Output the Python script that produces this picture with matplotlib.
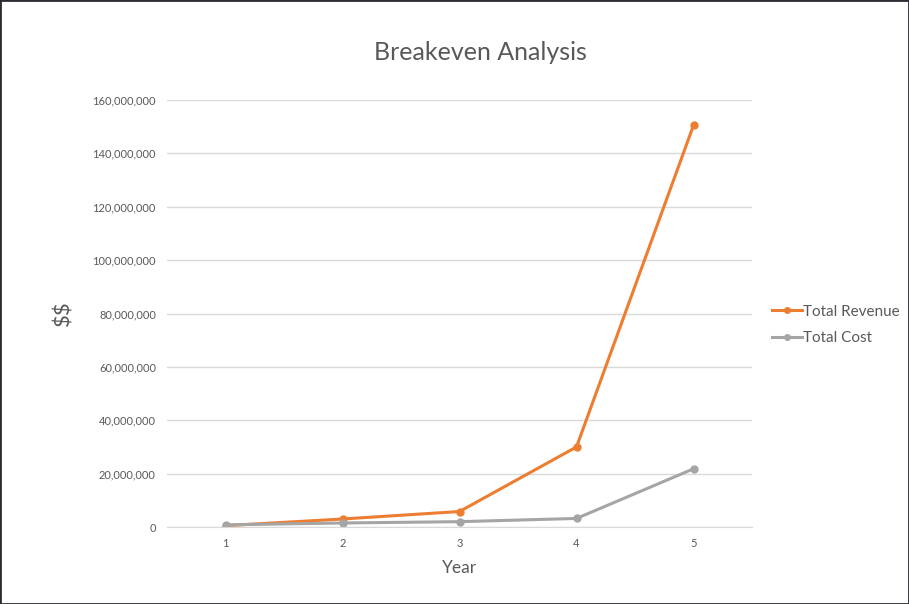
import matplotlib
matplotlib.use("Agg")
import matplotlib.pyplot as plt
from matplotlib.ticker import FuncFormatter
from matplotlib.patches import Rectangle

years = [1, 2, 3, 4, 5]
total_revenue = [500000, 3000000, 5800000, 30000000, 150500000]
total_cost = [800000, 1500000, 2000000, 3200000, 21800000]

plt.rcParams['font.family'] = ['Lato', 'DejaVu Sans']
plt.rcParams['text.parse_math'] = False

fig = plt.figure(figsize=(9.09, 6.04), dpi=100)
ax = fig.add_axes([167 / 909, 1 - 527 / 604, (752 - 167) / 909, (527 - 100) / 604])

ax.plot(years, total_revenue, color='#ed7d31', lw=2.2, marker='o', ms=5, label='Total Revenue')
ax.plot(years, total_cost, color='#a5a5a5', lw=2.2, marker='o', ms=5, label='Total Cost')

ax.set_xlim(0.5, 5.5)
ax.set_ylim(0, 160000000)
ax.set_xticks(years)
ax.set_yticks(range(0, 160000001, 20000000))
ax.yaxis.set_major_formatter(FuncFormatter(lambda v, p: f"{int(v):,}"))
ax.grid(axis='y', color='#d9d9d9', lw=1)
ax.set_axisbelow(True)
for s in ['top', 'right', 'left']:
    ax.spines[s].set_visible(False)
ax.spines['bottom'].set_color('#d9d9d9')
ax.tick_params(length=0, labelsize=8, labelcolor='#595959', pad=8)

fig.text(480 / 909, 1 - 53 / 604, 'Breakeven Analysis', fontsize=18, color='#595959',
         ha='center', va='center')
ax.set_xlabel('Year', fontsize=12.5, color='#595959', labelpad=8)
ax.set_ylabel('$$', fontsize=16, color='#595959', labelpad=14)

ax.legend(loc='center left', bbox_to_anchor=(758 / 909, 1 - 325 / 604),
          bbox_transform=fig.transFigure, frameon=False, fontsize=11,
          labelcolor='#595959', handlelength=2.0, handletextpad=0.05,
          labelspacing=0.85, markerscale=0.8)

fig.patches.append(Rectangle((0, 0), 1, 1, transform=fig.transFigure, fill=False,
                             edgecolor='#2b2d33', lw=2, zorder=10))

fig.savefig('out.png', dpi=100)
